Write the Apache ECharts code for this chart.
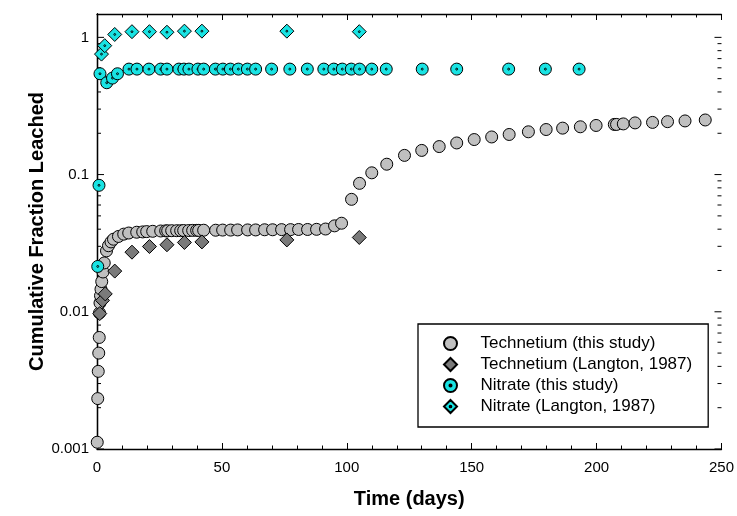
<!DOCTYPE html>
<html>
<head>
<meta charset="utf-8">
<script src="https://cdn.jsdelivr.net/npm/echarts@6/dist/echarts.min.js"></script>
<style>
  html, body { margin: 0; padding: 0; background: #fff; }
  #chart { width: 737px; height: 516px; }
</style>
</head>
<body>
<div id="chart"></div>
<script>
// Technetium, this study
const tcDays = [0.1, 0.3, 0.5, 0.7, 0.9, 1.0, 1.2, 1.4, 1.6, 1.9, 2.4, 2.9, 3.8, 4.6, 5.6, 6.6, 8.6, 10.7,
  12.7, 15.9, 18.3, 19.9, 22.3, 25.5, 27.5, 28.3, 29.9, 31.9, 33.5, 34.7, 36.7, 38.3, 39.9, 40.7, 42.7,
  47.5, 50.3, 53.5, 56.3, 60.3, 63.5, 67.1, 70.3, 73.9, 77.5, 80.7, 84.3, 87.9, 91.5, 95.1, 97.9,
  101.9, 105.1, 110, 116, 123.1, 130, 137, 144, 151, 158, 165, 172.7, 179.8, 186.4, 193.5, 199.8,
  207.1, 208, 210.7, 215.4, 222.4, 228.4, 235.4, 243.5];
const tcFrac = [0.00112, 0.00233, 0.00368, 0.0050, 0.0065, 0.0098, 0.0116, 0.0131, 0.0146, 0.0166, 0.0195, 0.0227, 0.0278, 0.0303, 0.0323, 0.0338, 0.0354, 0.0368,
  0.0375, 0.0380, 0.0382, 0.0384, 0.0386, 0.0388, 0.0389, 0.0389, 0.0390, 0.0390, 0.0390, 0.0391, 0.0391, 0.0392, 0.0392, 0.0392, 0.0393,
  0.0393, 0.0394, 0.0394, 0.0395, 0.0395, 0.0395, 0.0396, 0.0396, 0.0397, 0.0397, 0.0398, 0.0398, 0.0399, 0.0401, 0.0423, 0.0442,
  0.066, 0.0863, 0.103, 0.119, 0.138, 0.150, 0.160, 0.170, 0.180, 0.188, 0.196, 0.205, 0.213, 0.218, 0.223, 0.228,
  0.232, 0.232, 0.234, 0.238, 0.240, 0.243, 0.246, 0.250];

// Technetium, Langton 1987
const tcLangDays = [1.1, 2.2, 3.3, 7.1, 14, 21, 28, 35, 42, 76, 105];
const tcLangFrac = [0.0097, 0.0121, 0.0135, 0.0198, 0.0272, 0.0299, 0.0308, 0.0320, 0.0323, 0.0334, 0.0348];

// Nitrate, this study
const no3Days = [0.3, 0.8, 1.2, 3.9, 6.2, 8.2, 12.8, 16, 20.8, 25.5, 28, 32.8, 34.8, 36.8, 40.4, 42.7,
  47.4, 50.4, 53.4, 56.6, 60.2, 63.5, 69.9, 77.2, 84.2, 90.8, 94.8, 98.2, 101.8, 105.1, 110, 115.8,
  130.2, 144, 164.8, 179.5, 193];
const no3Frac = [0.0214, 0.0835, 0.543, 0.467, 0.505, 0.543, 0.587, 0.587, 0.587, 0.587, 0.587, 0.587, 0.587, 0.587, 0.587, 0.587,
  0.587, 0.587, 0.587, 0.587, 0.587, 0.587, 0.587, 0.587, 0.587, 0.587, 0.587, 0.587, 0.587, 0.587, 0.587, 0.587,
  0.587, 0.587, 0.587, 0.587, 0.587];

// Nitrate, Langton 1987
const no3LangDays = [1.8, 3.1, 7.1, 14, 21, 28, 35, 42, 76, 105];
const no3LangFrac = [0.755, 0.87, 1.05, 1.10, 1.10, 1.09, 1.11, 1.11, 1.11, 1.10];

const yMajorTicks = [0.001, 0.01, 0.1, 1];
const yTickLabels = ['0.001', '0.01', '0.1', '1'];
const yMinorSteps = [2, 3, 4, 5, 6, 7, 8, 9];

const seriesNames = ['Technetium (this study)', 'Technetium (Langton, 1987)', 'Nitrate (this study)', 'Nitrate (Langton, 1987)'];

function pairs(xs, ys) {
  return xs.map(function (x, i) { return [x, ys[i]]; });
}

// y tick marks on both sides (log minor ticks at 2..9)
const yTicks = [];
yMajorTicks.forEach(function (v) {
  yTicks.push([0, v, 7]);
  if (v < 1) {
    yMinorSteps.forEach(function (s) { yTicks.push([0, v * s, 4]); });
  }
});

const diamondPath = 'path://M0,-10 L10,0 L0,10 L-10,0 Z';
const dotCircle = 'path://M0,-10 A10,10 0 1,1 0,10 A10,10 0 1,1 0,-10 Z M0,-1.6 A1.6,1.6 0 1,1 0,1.6 A1.6,1.6 0 1,1 0,-1.6 Z';
const dotDiamond = 'path://M0,-10 L10,0 L0,10 L-10,0 Z M0,-1.3 A1.3,1.3 0 1,1 0,1.3 A1.3,1.3 0 1,1 0,-1.3 Z';
const cyan = '#19E3E3';

const chart = echarts.init(document.getElementById('chart'));

chart.setOption({
  animation: false,
  textStyle: { fontFamily: 'Arial, "Liberation Sans", sans-serif' },
  grid: { left: 97, right: 15, top: 14, bottom: 67 },
  legend: {
    data: seriesNames,
    orient: 'vertical',
    left: 418,
    top: 324,
    padding: [11, 16, 12, 25],
    itemGap: 4,
    itemWidth: 14,
    itemHeight: 13,
    symbolKeepAspect: true,
    borderColor: '#000',
    borderWidth: 1.3,
    selectedMode: false,
    textStyle: { fontSize: 17, color: '#000', padding: [0, 0, 0, 18] }
  },
  xAxis: [{
    type: 'value',
    min: 0, max: 250, interval: 50,
    name: 'Time (days)',
    nameLocation: 'middle',
    nameGap: 40,
    nameMoveOverlap: false,
    nameTextStyle: { fontSize: 20, fontWeight: 'bold', color: '#000' },
    axisLine: { show: true, lineStyle: { color: '#000', width: 1.3 } },
    axisTick: { inside: true, length: 6, lineStyle: { color: '#000' } },
    minorTick: { show: true, splitNumber: 5, length: 3.5, lineStyle: { color: '#000' } },
    splitLine: { show: false },
    axisLabel: { fontSize: 15, color: '#000', margin: 11 }
  }, {
    type: 'value',
    position: 'top',
    min: 0, max: 250, interval: 50,
    axisLine: { show: true, lineStyle: { color: '#000', width: 1.3 } },
    axisTick: { inside: true, length: 6, lineStyle: { color: '#000' } },
    minorTick: { show: true, splitNumber: 5, length: 3.5, lineStyle: { color: '#000' } },
    splitLine: { show: false },
    axisLabel: { show: false }
  }],
  yAxis: [{
    type: 'log',
    min: 0.001, max: 1.48,
    name: 'Cumulative Fraction Leached',
    nameLocation: 'middle',
    nameGap: 50,
    nameMoveOverlap: false,
    nameTextStyle: { fontSize: 20, fontWeight: 'bold', color: '#000' },
    axisLine: { show: true, lineStyle: { color: '#000', width: 1.3 } },
    axisTick: { show: false },
    splitLine: { show: false },
    axisLabel: {
      fontSize: 15, color: '#000', margin: 8,
      formatter: function (v) {
        for (let i = 0; i < yMajorTicks.length; i++) {
          if (Math.abs(v - yMajorTicks[i]) < yMajorTicks[i] * 1e-6) return yTickLabels[i];
        }
        return '';
      }
    }
  }, {
    type: 'log',
    position: 'right',
    min: 0.001, max: 1.48,
    axisLine: { show: true, lineStyle: { color: '#000', width: 1.3 } },
    axisTick: { show: false },
    splitLine: { show: false },
    axisLabel: { show: false }
  }],
  series: [{
    type: 'custom',
    silent: true,
    z: 1,
    data: yTicks,
    renderItem: function (params, api) {
      const cs = params.coordSys;
      const y = api.coord([0, api.value(1)])[1];
      const len = api.value(2);
      const style = { stroke: '#000', lineWidth: 1 };
      return {
        type: 'group',
        children: [
          { type: 'line', shape: { x1: cs.x, y1: y, x2: cs.x + len, y2: y }, style: style },
          { type: 'line', shape: { x1: cs.x + cs.width - len, y1: y, x2: cs.x + cs.width, y2: y }, style: style }
        ]
      };
    }
  }, {
    name: seriesNames[0],
    type: 'scatter',
    data: pairs(tcDays, tcFrac),
    symbol: 'circle',
    symbolSize: 12,
    itemStyle: { color: '#C0C0C0', borderColor: '#000', borderWidth: 1, opacity: 1 }
  }, {
    name: seriesNames[1],
    type: 'scatter',
    data: pairs(tcLangDays, tcLangFrac),
    symbol: diamondPath,
    symbolSize: 14,
    itemStyle: { color: '#7A7A7A', borderColor: '#000', borderWidth: 1, opacity: 1 }
  }, {
    name: seriesNames[2],
    type: 'scatter',
    data: pairs(no3Days, no3Frac),
    symbol: dotCircle,
    symbolSize: 12,
    itemStyle: { color: cyan, borderColor: '#000', borderWidth: 1, opacity: 1 }
  }, {
    name: seriesNames[3],
    type: 'scatter',
    data: pairs(no3LangDays, no3LangFrac),
    symbol: dotDiamond,
    symbolSize: 14,
    itemStyle: { color: cyan, borderColor: '#000', borderWidth: 1, opacity: 1 }
  }]
});
</script>
</body>
</html>
